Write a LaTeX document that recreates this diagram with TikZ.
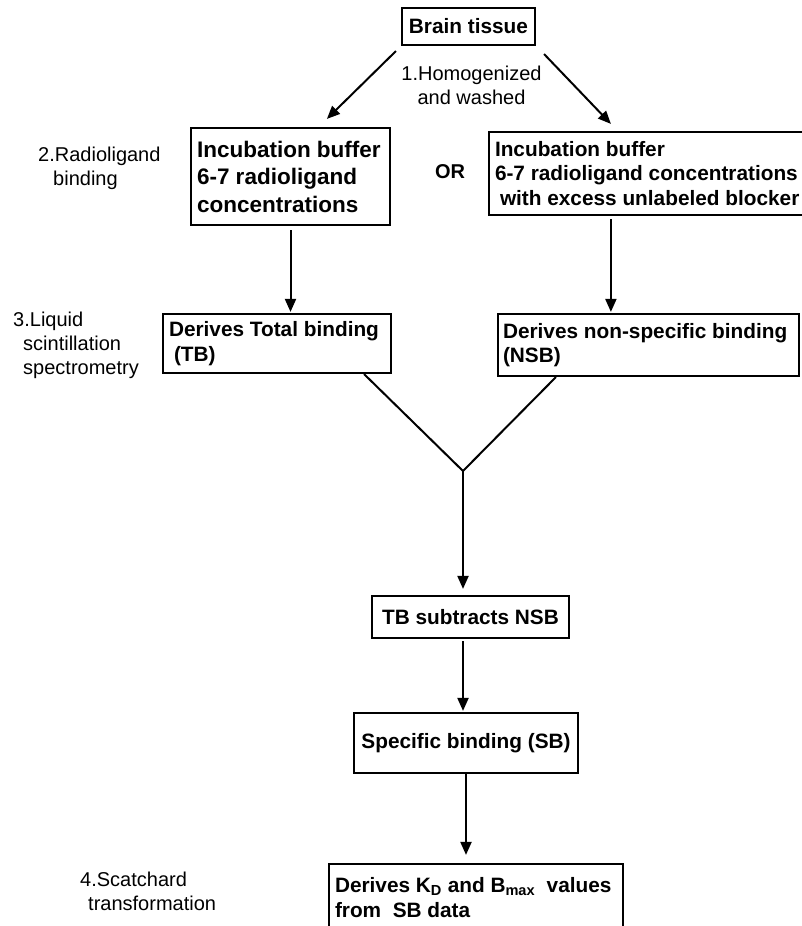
\documentclass[tikz,border=0pt]{standalone}
\usepackage{fontspec}
\setmainfont{Liberation Sans}
\usetikzlibrary{arrows.meta, positioning}

\begin{document}
\begin{tikzpicture}[x=1pt, y=-1pt,
  box/.style={draw=black, line width=2.2pt, inner xsep=6pt, inner ysep=0pt, align=flush left, font=\fontsize{20.8}{24.5}\selectfont\bfseries},
  sidetext/.style={anchor=north west, inner sep=0pt, align=left, font=\fontsize{20}{24}\selectfont},
  arr/.style={draw=black, line width=2pt, -{Triangle[length=13pt, width=11pt]}},
  branch/.style={draw=black, line width=2pt}]
\clip (0,0) rectangle (802,926);

\node[box, align=center, minimum width=133pt, minimum height=37pt] (brain) at (468.5,26.5) {Brain tissue};
\node[box, font=\fontsize{22.5}{27.5}\selectfont\bfseries, text width=187pt, minimum height=97pt] (incL) at (290.5,176.5) {Incubation buffer\\6-7 radioligand\\concentrations};
\node[box, text width=330pt, minimum height=83pt] (incR) at (660,173.5) {Incubation buffer\\\mbox{6-7 radioligand concentrations}\\\mbox{\hspace*{5pt}with excess unlabeled blocker}};
\node[box, text width=216pt, minimum height=59pt] (TB) at (277,343.5) {Derives Total binding\\\hspace*{5pt}(TB)};
\node[box, inner xsep=5pt, text width=291pt, minimum height=62pt] (NSB) at (648.5,345) {\mbox{Derives non-specific binding}\\(NSB)};
\node[box, align=center, minimum width=197pt, minimum height=42pt] (sub) at (470.5,617) {TB subtracts NSB};
\node[box, align=center, minimum width=224pt, minimum height=60pt] (SB) at (466,743) {Specific binding (SB)};
\node[box, text width=282pt, minimum height=67pt] (KD) at (476,897.5) {\mbox{Derives K\textsubscript{D} and B\textsubscript{max}\ \ values}\\\mbox{from\ \ SB data}};

\node[sidetext, anchor=north, align=center] (step1) at (471.5,66) {1.Homogenized\\and washed};
\node[sidetext] (step2) at (38,147) {2.Radioligand\\\hspace*{15pt}binding};
\node[sidetext] (step3) at (13,312) {3.Liquid\\\hspace*{10pt}scintillation\\\hspace*{10pt}spectrometry};
\node[sidetext] (step4) at (80,872) {4.Scatchard\\\hspace*{8pt}transformation};
\node[font=\fontsize{20}{24}\selectfont\bfseries] (or) at (450,172) {OR};

\coordinate (join) at (463,471);

\draw[arr] ([shift={(-5,5)}]brain.south west) -- ([shift={(137,-8)}]incL.north west);
\draw[arr] ([shift={(8,8)}]brain.south east) -- ([shift={(123,-7)}]incR.north west);
\draw[arr, shorten <=4pt, shorten >=1pt] (incL.south) -- (incL.south |- TB.north);
\draw[arr, shorten <=3pt, shorten >=1pt] ([xshift=123pt]incR.south west) -- ([xshift=123pt]incR.south west |- NSB.north);
\draw[branch] ([xshift=-28pt]TB.south east) -- (join) -- ([xshift=59pt]NSB.south west);
\draw[arr, shorten >=6pt] (join) -- (join |- sub.north);
\draw[arr, shorten <=2pt, shorten >=1pt] (join |- sub.south) -- (join |- SB.north);
\draw[arr, shorten >=8pt] (SB.south) -- (SB.south |- KD.north);

\end{tikzpicture}
\end{document}
